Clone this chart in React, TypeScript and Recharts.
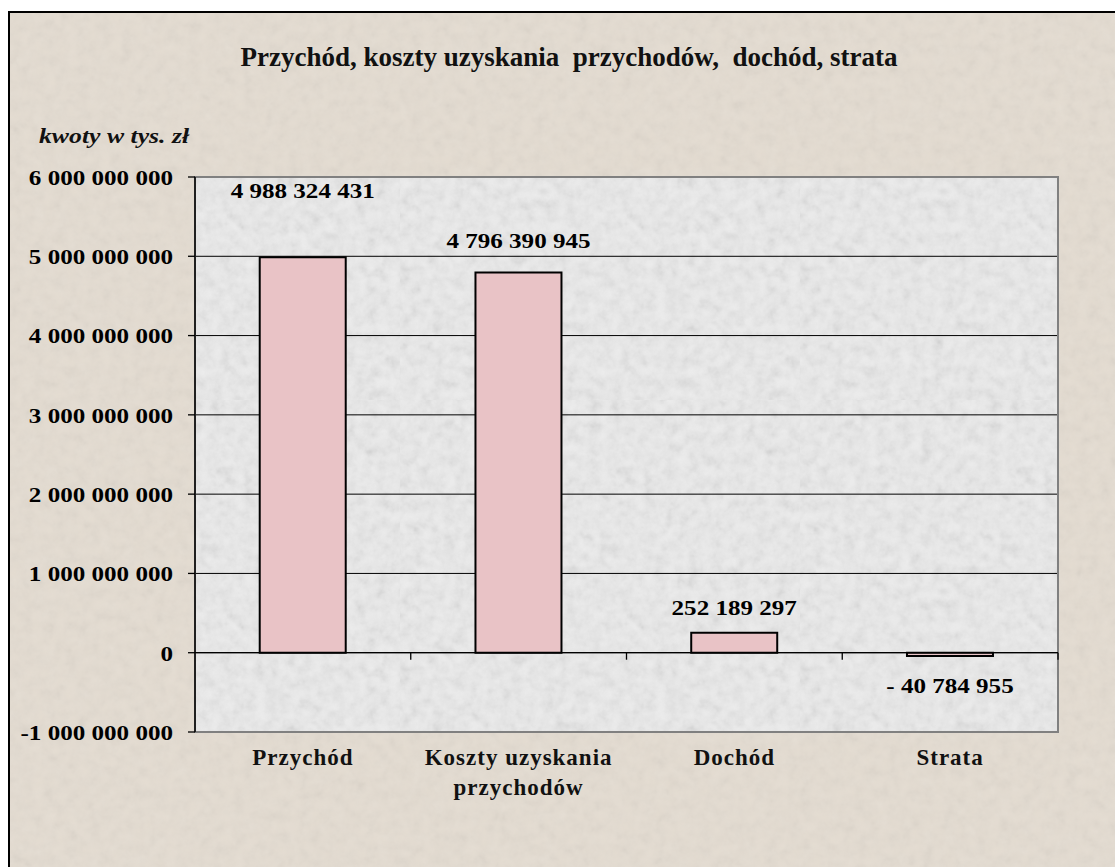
import {
  BarChart,
  Bar,
  XAxis,
  YAxis,
  CartesianGrid,
  LabelList,
  ReferenceLine,
  ReferenceArea,
} from "recharts";

// kwoty w tys. zł
const categories = ["Przychód", "Koszty uzyskania\nprzychodów", "Dochód", "Strata"];
const values = [4988324431, 4796390945, 252189297, -40784955];
const yTicks = [-1e9, 0, 1e9, 2e9, 3e9, 4e9, 5e9, 6e9];

const data = categories.map((name, i) => ({ name, value: values[i] }));

const FONT = '"Liberation Serif", "Times New Roman", serif';
const SX = 1.14; // tekst w oryginale jest lekko rozciagniety w poziomie
// odstep etykiety od slupka (jak w oryginale, pierwsza przesunieta wyzej)
const LABEL_GAP = [67, 32, 25, 29];

const groups = (v: number) => Math.abs(v).toString().replace(/\B(?=(\d{3})+(?!\d))/g, " ");
const axisFmt = (v: number) => (v < 0 ? "-" : "") + groups(v);
const labelFmt = (v: number) => (v < 0 ? "- " : "") + groups(v);

function ValueLabel(props: any) {
  const { x, y, width, height, value, index } = props;
  const top = Math.min(y, y + height);
  const bottom = Math.max(y, y + height);
  const cx = x + width / 2;
  const cy = value < 0 ? bottom + LABEL_GAP[index] : top - LABEL_GAP[index];
  return (
    <g transform={`translate(${cx},${cy}) scale(${SX},1)`}>
      <text x={0} y={0} dy="0.35em" textAnchor="middle" fontFamily={FONT} fontWeight={700} fontSize={22} fill="#000">
        {labelFmt(value)}
      </text>
    </g>
  );
}

function YTick(props: any) {
  const { x, y, payload } = props;
  return (
    <g transform={`translate(${x},${y}) scale(${SX},1)`}>
      <text x={0} y={0} dy="0.36em" textAnchor="end" fontFamily={FONT} fontWeight={700} fontSize={22} fill="#000">
        {axisFmt(payload.value)}
      </text>
    </g>
  );
}

function CategoryTick(props: any) {
  const { x, y, payload } = props;
  const lines = String(payload.value).split("\n");
  return (
    <text x={x} y={y} textAnchor="middle" fontFamily={FONT} fontWeight={700} fontSize={23} letterSpacing={1} fill="#111">
      {lines.map((l, i) => (
        <tspan key={i} x={x} dy={i === 0 ? 33 : 30}>
          {l}
        </tspan>
      ))}
    </text>
  );
}

// linia zera z kreskami podzialu kategorii
function ZeroLine(props: any) {
  const { x1, x2, y1 } = props;
  const step = (x2 - x1) / categories.length;
  return (
    <g>
      <line x1={x1} x2={x2} y1={y1} y2={y1} stroke="#000" strokeWidth={1.3} />
      {categories.map((_, i) => {
        const x = x1 + step * (i + 1);
        return <line key={i} x1={x} x2={x} y1={y1} y2={y1 + 7} stroke="#000" strokeWidth={1.3} />;
      })}
    </g>
  );
}

export default function App() {
  return (
    <div style={{ position: "relative", width: 1115, height: 867, overflow: "hidden", background: "#fff" }}>
      <style>{`body{margin:0;overflow:hidden}`}</style>
      <svg width={0} height={0} style={{ position: "absolute" }}>
        <defs>
          <filter id="grain" x="0" y="0" width="100%" height="100%">
            <feTurbulence type="fractalNoise" baseFrequency="0.09" numOctaves={3} seed={4} />
            <feColorMatrix type="saturate" values="0" />
          </filter>
          <pattern id="plotTex" patternUnits="userSpaceOnUse" width={400} height={400}>
            <rect width={400} height={400} fill="#ececec" />
            <rect width={400} height={400} filter="url(#grain)" opacity={0.3} />
          </pattern>
        </defs>
      </svg>
      <div
        style={{
          position: "absolute",
          left: 8,
          top: 11,
          width: 1130,
          height: 880,
          borderLeft: "2px solid #000",
          borderTop: "2px solid #000",
          background: "#e4dcd1",
        }}
      />
      <svg width={1115} height={867} style={{ position: "absolute", left: 0, top: 0 }}>
        <rect x={10} y={13} width={1105} height={854} filter="url(#grain)" opacity={0.14} />
        <text
          x={569}
          y={66}
          textAnchor="middle"
          fontFamily={FONT}
          fontWeight={700}
          fontSize={27}
          fill="#111"
          style={{ whiteSpace: "pre" }}
        >
          {"Przychód, koszty uzyskania  przychodów,  dochód, strata"}
        </text>
        <g transform={`translate(39,143) scale(1.17,1)`}>
          <text x={0} y={0} fontFamily={FONT} fontWeight={700} fontStyle="italic" fontSize={22} fill="#111">
            kwoty w tys. zł
          </text>
        </g>
      </svg>
      <div style={{ position: "absolute", left: 0, top: 0 }}>
        <BarChart
          width={1115}
          height={867}
          data={data}
          margin={{ top: 177, right: 57, left: 0, bottom: 0 }}
          barCategoryGap="30%"
        >
          <CartesianGrid vertical={false} stroke="#000" strokeWidth={1} fill="url(#plotTex)" fillOpacity={1} />
          <ReferenceArea y1={-1e9} y2={6e9} fill="none" stroke="#808080" strokeWidth={2} />
          <XAxis
            dataKey="name"
            interval={0}
            axisLine={false}
            tickLine={false}
            tickSize={0}
            tickMargin={0}
            height={135}
            tick={<CategoryTick />}
          />
          <YAxis
            domain={[-1e9, 6e9]}
            ticks={yTicks}
            interval={0}
            width={195}
            axisLine={{ stroke: "#000", strokeWidth: 1.5 }}
            tickLine={{ stroke: "#000", strokeWidth: 1.3 }}
            tickSize={7}
            tickMargin={15}
            tick={<YTick />}
          />
          <ReferenceLine y={0} shape={<ZeroLine />} />
          <Bar dataKey="value" fill="#e9c3c6" stroke="#000" strokeWidth={2} isAnimationActive={false}>
            <LabelList dataKey="value" content={<ValueLabel />} />
          </Bar>
        </BarChart>
      </div>
    </div>
  );
}
